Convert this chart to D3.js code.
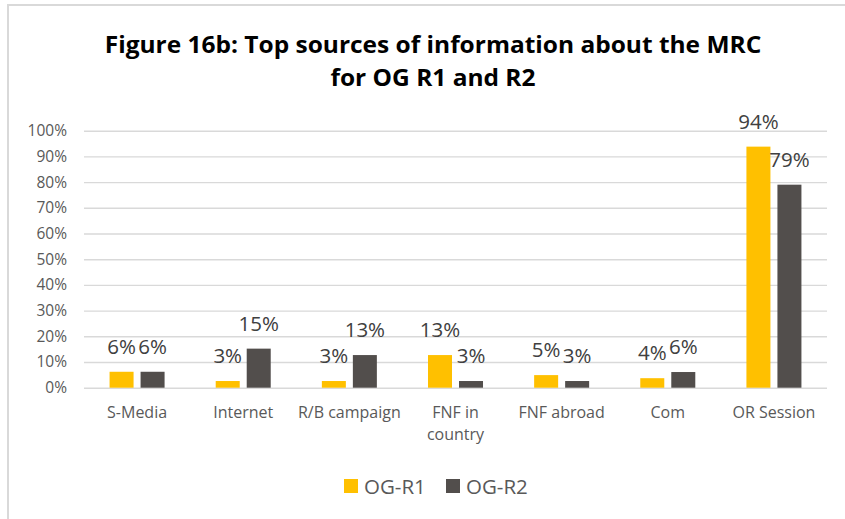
<!DOCTYPE html>
<html>
<head>
<meta charset="utf-8">
<script src="https://cdn.jsdelivr.net/npm/d3@7"></script>
<style>
  html, body { margin: 0; padding: 0; background: #fff; }
  svg { display: block; }
  text { font-family: "Open Sans", "Noto Sans", sans-serif; }
</style>
</head>
<body>
<svg id="chart" width="845" height="519"></svg>
<script>
// Survey shares by information source, two rounds
const categories = ["S-Media", "Internet", "R/B campaign", "FNF in country", "FNF abroad", "Com", "OR Session"];
const seriesNames = ["OG-R1", "OG-R2"];
const r1Values = [0.062, 0.026, 0.026, 0.127, 0.049, 0.037, 0.938];
const r2Values = [0.062, 0.152, 0.127, 0.026, 0.026, 0.061, 0.790];
const yTicks = [0, 0.1, 0.2, 0.3, 0.4, 0.5, 0.6, 0.7, 0.8, 0.9, 1.0];
const titleLines = ["Figure 16b: Top sources of information about the MRC", "for OG R1 and R2"];
const categoryLines = { "FNF in country": ["FNF in", "country"] };

const colors = { "OG-R1": "#FFC000", "OG-R2": "#524E4C" };
const rows = categories.map((c, i) => ({ category: c, values: [
  { key: "OG-R1", value: r1Values[i] },
  { key: "OG-R2", value: r2Values[i] }
]}));

const svg = d3.select("#chart");
const plot = { left: 84, right: 827, top: 130.7, bottom: 387.7 };

// Outer chart frame (runs past the right and bottom edges)
svg.append("rect")
  .attr("x", 8).attr("y", 5).attr("width", 860).attr("height", 540)
  .attr("fill", "none").attr("stroke", "#d9d9d9").attr("stroke-width", 2);

// Title, condensed horizontally to its line width
const titleCx = 433;
const titleG = svg.append("g");
const title = titleG.append("text")
  .attr("text-anchor", "middle")
  .attr("font-weight", "bold")
  .attr("fill", "#000")
  .attr("font-size", 22.5);
title.selectAll("tspan").data(titleLines).join("tspan")
  .attr("x", 0).attr("y", (d, i) => 53 + i * 33)
  .text(d => d);
const w = title.select("tspan").node().getComputedTextLength();
titleG.attr("transform", `translate(${titleCx},0) scale(${657 / w},1)`);

const y = d3.scaleLinear().domain([0, 1]).range([plot.bottom, plot.top]);
const x0 = d3.scaleBand().domain(categories).range([plot.left, plot.right])
  .paddingInner(0.4817).paddingOuter(0.24085);
const x1 = d3.scaleBand().domain(seriesNames).range([0, x0.bandwidth()]).paddingInner(7 / 31);

// Gridlines and percentage ticks
const yAxis = d3.axisLeft(y).tickValues(yTicks).tickFormat(d3.format(".0%"))
  .tickSize(-(plot.right - plot.left)).tickPadding(17);
const gy = svg.append("g").attr("transform", `translate(${plot.left},0)`).call(yAxis);
gy.select(".domain").remove();
gy.selectAll(".tick line").attr("stroke", "#d9d9d9").attr("stroke-width", 1.4);
gy.selectAll(".tick text").attr("fill", "#595959").attr("font-size", 15.5)
  .attr("font-family", "'Open Sans', sans-serif");

// Bars
const groups = svg.append("g").selectAll("g").data(rows).join("g")
  .attr("transform", d => `translate(${x0(d.category)},0)`);
groups.selectAll("rect").data(d => d.values).join("rect")
  .attr("x", d => x1(d.key))
  .attr("width", x1.bandwidth())
  .attr("y", d => y(d.value))
  .attr("height", d => y(0) - y(d.value))
  .attr("fill", d => colors[d.key]);

// Value labels
const fmt = v => Math.round(v * 100) + "%";
groups.selectAll("text.val").data(d => d.values).join("text")
  .attr("class", "val")
  .attr("x", d => x1(d.key) + x1.bandwidth() / 2)
  .attr("y", d => y(d.value) - 18)
  .attr("text-anchor", "middle")
  .attr("font-size", 20.5)
  .attr("fill", "#404040")
  .text(d => fmt(d.value));

// Category axis
const xAxis = d3.axisBottom(x0).tickSize(0).tickPadding(0).tickFormat(() => "");
const gx = svg.append("g").attr("transform", `translate(0,${plot.bottom})`).call(xAxis);
gx.select(".domain").remove();
gx.selectAll(".tick").each(function(d) {
  const lines = categoryLines[d] || [d];
  const t = d3.select(this).append("text")
    .attr("text-anchor", "middle").attr("fill", "#595959").attr("font-size", 16)
    .attr("font-family", "'Open Sans', sans-serif");
  t.selectAll("tspan").data(lines).join("tspan")
    .attr("x", 0).attr("y", (l, i) => 30.5 + i * 22).text(l => l);
});

// Legend
const legend = svg.append("g");
const legendX = [344, 446];
seriesNames.forEach((s, i) => {
  legend.append("rect").attr("x", legendX[i]).attr("y", 479).attr("width", 14).attr("height", 14)
    .attr("fill", colors[s]);
  legend.append("text").attr("x", legendX[i] + 20).attr("y", 493.5)
    .attr("font-size", 20.5).attr("fill", "#595959").text(s);
});
</script>
</body>
</html>
